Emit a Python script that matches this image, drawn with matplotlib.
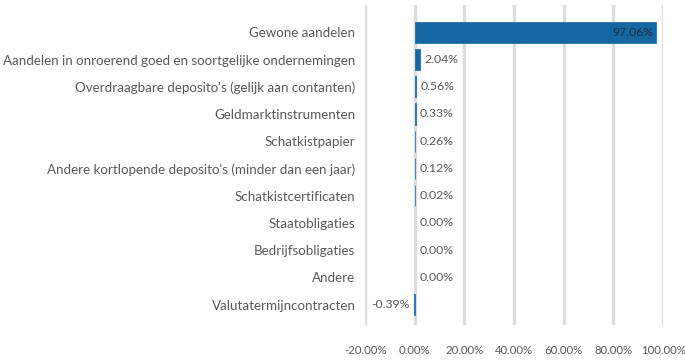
import matplotlib.pyplot as plt

categories = [
    "Gewone aandelen",
    "Aandelen in onroerend goed en soortgelijke ondernemingen",
    "Overdraagbare deposito's (gelijk aan contanten)",
    "Geldmarktinstrumenten",
    "Schatkistpapier",
    "Andere kortlopende deposito's (minder dan een jaar)",
    "Schatkistcertificaten",
    "Staatobligaties",
    "Bedrijfsobligaties",
    "Andere",
    "Valutatermijncontracten",
]
weights = [97.06, 2.04, 0.56, 0.33, 0.26, 0.12, 0.02, 0.00, 0.00, 0.00, -0.39]
ticks = [-20, 0, 20, 40, 60, 80, 100]

text_color = "#595959"
bar_color = "#1467a3"

plt.rcParams["font.family"] = ["Lato", "DejaVu Sans"]

fig = plt.figure(figsize=(6.85, 3.6), dpi=100)
ax = fig.add_axes([0.533, 0.097, 0.435, 0.889])

pos = list(range(len(categories)))
# thin outline so the tiny positions stay visible, none on the empty ones
edge_w = [0.5 if v != 0 else 0 for v in weights]
ax.barh(pos, weights, height=0.78, color=bar_color, edgecolor=bar_color,
        linewidth=edge_w, zorder=3)

for y, v in zip(pos, weights):
    label = f"{v:.2f}%"
    if v > 50:
        ax.text(v - 0.8, y, label, ha="right", va="center", fontsize=8.8,
                color="#1f2d3d", zorder=4)
    elif v < 0:
        ax.text(v - 1.5, y, label, ha="right", va="center", fontsize=8.8,
                color=text_color, zorder=4)
    else:
        ax.text(max(v, 0) + 1.8, y, label, ha="left", va="center", fontsize=8.8,
                color=text_color, zorder=4)

ax.set_xlim(-20, 100)
ax.set_ylim(len(categories) - 0.25, -1.0)
ax.set_xticks(ticks)
ax.set_xticklabels([f"{t:.2f}%" for t in ticks])
ax.set_yticks(pos)
ax.set_yticklabels(categories)

ax.grid(axis="x", color="#dddddd", linewidth=2.5, zorder=0)
ax.grid(axis="y", visible=False)
for s in ax.spines.values():
    s.set_visible(False)
ax.tick_params(axis="both", length=0, labelcolor=text_color)
ax.tick_params(axis="x", pad=14, labelsize=8.2)
ax.tick_params(axis="y", pad=7, labelsize=9.6)

fig.savefig("out.png", dpi=100)
